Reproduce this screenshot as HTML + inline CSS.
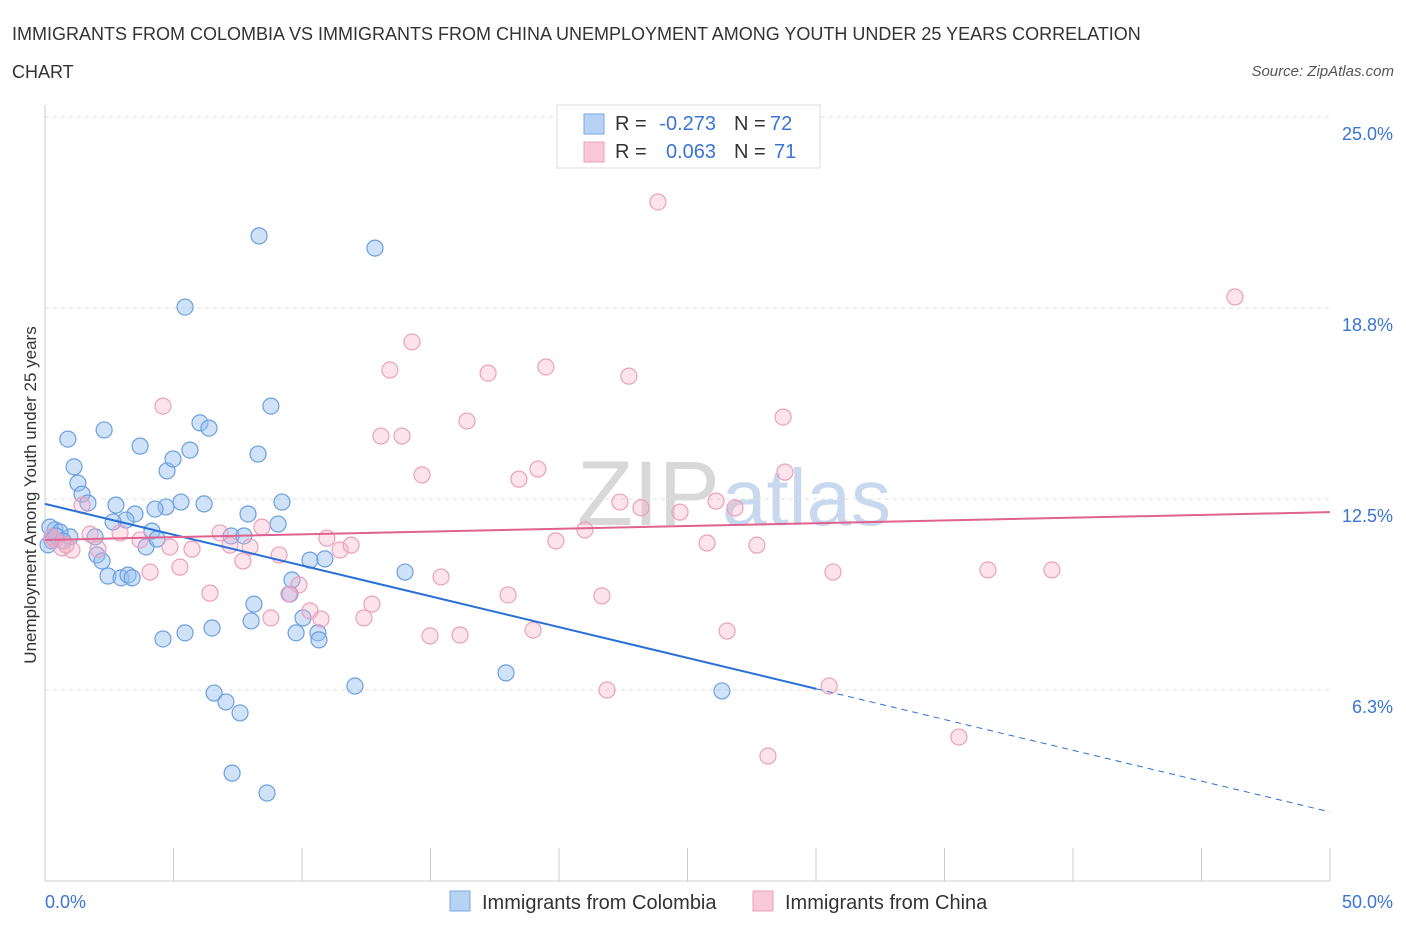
<!DOCTYPE html>
<html><head><meta charset="utf-8"><style>
body{margin:0;background:#fff;font-family:"Liberation Sans",sans-serif;}
svg text{font-family:"Liberation Sans",sans-serif;}
</style></head><body>
<svg id="chart" width="1406" height="930">
<text x="12" y="40" font-size="18" fill="#333">IMMIGRANTS FROM COLOMBIA VS IMMIGRANTS FROM CHINA UNEMPLOYMENT AMONG YOUTH UNDER 25 YEARS CORRELATION</text>
<text x="12" y="78" font-size="18" fill="#333">CHART</text>
<text x="1394" y="76" font-size="15" font-style="italic" fill="#555" text-anchor="end">Source: ZipAtlas.com</text>
<text x="720" y="525" font-size="92" fill="#d8d8d8" text-anchor="end" font-family="Liberation Serif">ZIP</text>
<text x="722" y="525" font-size="80" fill="#c8d8ee">atlas</text>
<g id="grid"></g><g id="axes"></g><g id="pts"></g><g id="lines"></g>
<text x="36" y="495" font-size="17" fill="#333" text-anchor="middle" transform="rotate(-90 36 495)">Unemployment Among Youth under 25 years</text>
<text x="45" y="908" font-size="18" fill="#3a74d4">0.0%</text>
<text x="1393" y="908" font-size="18" fill="#3a74d4" text-anchor="end">50.0%</text>
<g>
<rect x="557" y="105" width="263" height="63" fill="#fff" stroke="#ddd"/>
<rect x="584" y="114" width="20" height="20" fill="#b8d2f4" stroke="#7aa7e4"/>
<rect x="584" y="142" width="20" height="20" fill="#f9c9da" stroke="#eba0bc"/>
<text x="615" y="130" font-size="20" fill="#333">R =</text>
<text x="716" y="130" font-size="20" fill="#3a74d4" text-anchor="end">-0.273</text>
<text x="734" y="130" font-size="20" fill="#333">N =</text>
<text x="770" y="130" font-size="20" fill="#3a74d4">72</text>
<text x="615" y="158" font-size="20" fill="#333">R =</text>
<text x="716" y="158" font-size="20" fill="#3a74d4" text-anchor="end">0.063</text>
<text x="734" y="158" font-size="20" fill="#333">N =</text>
<text x="774" y="158" font-size="20" fill="#3a74d4">71</text>
</g>
<g>
<rect x="450" y="891" width="20" height="20" fill="#b8d2f4" stroke="#7aa7e4"/>
<text x="482" y="909" font-size="20" fill="#333">Immigrants from Colombia</text>
<rect x="753" y="891" width="20" height="20" fill="#f9c9da" stroke="#eba0bc"/>
<text x="785" y="909" font-size="20" fill="#333">Immigrants from China</text>
</g>
</svg>
<script>
const yTicks=[6.25,12.5,18.75,25];
const yTickLabels=["6.3%","12.5%","18.8%","25.0%"];
const xTicks=[0,5,10,15,20,25,30,35,40,45,50];
const colX=[0.89,1.13,2.30,1.28,1.44,1.67,2.76,3.70,4.75,4.98,5.64,6.03,6.38,5.45,8.33,12.84,8.79,8.29,9.22,6.19,5.29,4.71,4.28,3.50,3.15,2.65,1.95,0.97,0.39,0.19,0.58,0.27,2.02,2.22,2.45,2.96,3.23,3.39,3.93,4.16,4.36,7.24,7.74,7.90,9.07,10.31,10.89,14.01,9.61,9.53,9.77,10.04,10.62,10.66,8.13,8.02,6.50,5.45,4.59,6.58,7.04,7.59,7.28,8.64,12.06,17.94,26.34,0.12,0.43,0.70];
const colY=[14.46,13.55,14.76,13.02,12.66,12.37,12.30,14.23,13.42,13.81,14.10,14.99,14.82,18.78,21.11,20.71,15.54,13.97,12.40,12.34,12.40,12.24,12.17,12.01,11.81,11.75,11.26,11.26,11.49,11.58,11.42,11.13,10.67,10.47,9.98,9.92,10.01,9.92,10.93,11.45,11.19,11.29,11.29,12.01,11.68,10.50,10.54,10.11,9.85,9.39,8.12,8.61,8.12,7.89,9.06,8.51,8.28,8.12,7.92,6.15,5.86,5.50,3.53,2.88,6.38,6.81,6.22,11.00,11.29,11.13];
const chnX=[23.85,46.30,14.28,19.49,13.42,17.24,22.72,4.59,16.42,28.72,13.07,13.89,14.67,18.44,19.18,28.79,22.37,23.19,26.11,26.85,24.71,21.01,19.88,25.76,27.70,1.44,1.75,2.06,2.92,3.70,4.86,5.72,6.81,7.20,7.70,7.98,8.44,9.11,10.97,11.48,11.91,4.09,5.25,9.88,9.49,6.42,10.31,10.74,8.79,12.41,12.72,14.98,16.15,18.02,18.99,21.67,26.54,30.66,36.69,39.18,15.41,21.87,30.51,35.56,28.13,0.39,0.66,1.05,0.82,0.27];
const chnY=[22.22,19.11,17.64,16.82,16.72,16.62,16.52,15.54,15.05,15.18,14.56,14.56,13.29,13.15,13.48,13.38,12.40,12.21,12.43,12.21,12.07,11.49,11.13,11.06,10.99,12.30,11.35,10.86,11.39,11.16,10.93,10.86,11.39,10.99,10.47,10.93,11.58,10.67,11.22,10.83,10.99,10.11,10.27,9.69,9.39,9.42,8.84,8.57,8.61,8.61,9.06,8.02,8.05,9.36,8.21,9.33,8.18,10.11,10.18,10.18,9.95,6.25,6.38,4.71,4.09,11.16,10.90,10.83,11.00,11.26];
const colTrend=[12.34,2.26];
const chnTrend=[11.16,12.07];
const colSolidEnd=30;
const NS="http://www.w3.org/2000/svg";
const X=v=>45+v*25.7, Y=v=>881-v*30.56;
function mk(tag,attrs,parent){const e=document.createElementNS(NS,tag);for(const k in attrs)e.setAttribute(k,attrs[k]);parent.appendChild(e);return e;}
const grid=document.getElementById('grid'),axes=document.getElementById('axes'),pts=document.getElementById('pts'),lines=document.getElementById('lines');
yTicks.forEach((t,i)=>{
 const l=mk('line',{x1:45,x2:1330,y1:Y(t),y2:Y(t),stroke:'#ddd','stroke-dasharray':'4,4'},grid);
 
 
 const tx=mk('text',{x:1393,y:Y(t)+23,'font-size':18,fill:'#3a74d4','text-anchor':'end'},grid);
 tx.textContent=yTickLabels[i];
 
 
});
const ax=mk('line',{x1:45,x2:1330,y1:881,y2:881,stroke:'#ccc'},axes);


const ay=mk('line',{x1:45,x2:45,y1:105,y2:881,stroke:'#ccc'},axes);


xTicks.forEach(t=>{
 const l=mk('line',{x1:X(t),x2:X(t),y1:848,y2:881,stroke:'#ccc'},axes);
 
 
});
colX.forEach((v,i)=>{
 const c=mk('circle',{cx:X(v),cy:Y(colY[i]),r:8,fill:'rgba(150,190,240,0.45)',stroke:'#6a9fe0','stroke-width':1.2},pts);
 
 
});
chnX.forEach((v,i)=>{
 const c=mk('circle',{cx:X(v),cy:Y(chnY[i]),r:8,fill:'rgba(245,175,200,0.35)',stroke:'#eba0bc','stroke-width':1.2},pts);
 
 
});
const yc=x=>colTrend[0]+(colTrend[1]-colTrend[0])*x/50;
const l1=mk('line',{x1:X(0),y1:Y(yc(0)),x2:X(colSolidEnd),y2:Y(yc(colSolidEnd)),stroke:'#2a6fd6','stroke-width':2},lines);


const l2=mk('line',{x1:X(colSolidEnd),y1:Y(yc(colSolidEnd)),x2:X(50),y2:Y(yc(50)),stroke:'#2a6fd6','stroke-width':1,'stroke-dasharray':'6,5'},lines);


const l3=mk('line',{x1:X(0),y1:Y(chnTrend[0]),x2:X(50),y2:Y(chnTrend[1]),stroke:'#e0628e','stroke-width':2},lines);


</script>
</body></html>
